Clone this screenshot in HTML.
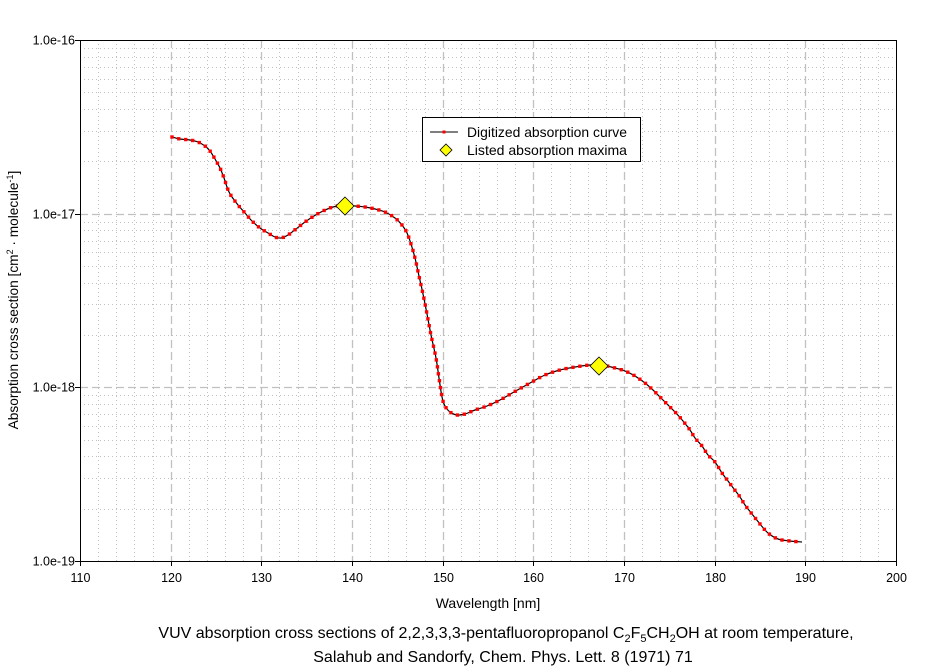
<!DOCTYPE html>
<html><head><meta charset="utf-8"><style>
body{margin:0;background:#fff}
svg{display:block;font-family:"Liberation Sans",Arial,sans-serif}
</style></head><body>
<svg id="s" width="936" height="668" viewBox="0 0 936 668">
<g id="grid"></g>
<rect x="80.5" y="40.5" width="816" height="521" fill="none" stroke="#000" stroke-width="1"/>
<g id="ticks" stroke="#000"></g>
<g id="labels" font-size="12.5" fill="#000"></g>
<path id="curve" fill="none" stroke="#000" stroke-width="1.2" d=""/>
<g id="marks" fill="#f00"></g>
<polygon points="345,197 354,206 345,215 336,206" fill="#ff0" stroke="#000" stroke-width="0.8"/>
<polygon points="599,357 608,366 599,375 590,366" fill="#ff0" stroke="#000" stroke-width="0.8"/>
<rect x="422.5" y="117.5" width="218" height="44" fill="#fff" stroke="#000"/>
<line x1="430" y1="132" x2="458" y2="132" stroke="#000"/>
<rect x="442.5" y="130.5" width="3" height="3" fill="#f00"/>
<polygon points="446,144 452,150 446,156 440,150" fill="#ff0" stroke="#000" stroke-width="0.8"/>
<text x="467" y="137" font-size="14" textLength="160" lengthAdjust="spacingAndGlyphs">Digitized absorption curve</text>
<text x="467" y="155" font-size="14" textLength="160" lengthAdjust="spacingAndGlyphs">Listed absorption maxima</text>
<text x="488" y="608" font-size="14" text-anchor="middle">Wavelength [nm]</text>
<text transform="translate(18,300) rotate(-90)" font-size="13.7" text-anchor="middle">Absorption cross section [cm<tspan font-size="9" dy="-5">2</tspan><tspan dy="5"> · molecule</tspan><tspan font-size="9" dy="-5">-1</tspan><tspan dy="5">]</tspan></text>
<text x="506" y="638" font-size="16" text-anchor="middle">VUV absorption cross sections of 2,2,3,3,3-pentafluoropropanol C<tspan font-size="11" dy="4">2</tspan><tspan dy="-4">F</tspan><tspan font-size="11" dy="4">5</tspan><tspan dy="-4">CH</tspan><tspan font-size="11" dy="4">2</tspan><tspan dy="-4">OH at room temperature,</tspan></text>
<text x="503" y="662" font-size="16" text-anchor="middle">Salahub and Sandorfy, Chem. Phys. Lett. 8 (1971) 71</text>
</svg>
<script>
var NS="http://www.w3.org/2000/svg";
function el(p,t,a,txt){var e=document.createElementNS(NS,t);for(var k in a)e.setAttribute(k,a[k]);if(txt!==undefined)e.textContent=txt;document.getElementById(p).appendChild(e);return e;}
var X0=80,X1=896,Y0=40,Y1=561;
function xp(n){return X0+(n-110)*(X1-X0)/90;}
function yp(l){return Y1-(l+19)*(Y1-Y0)/3;}
for(var n=112;n<200;n+=2){var x=Math.round(xp(n))+0.5;var maj=(n%10==0);
 el("grid","line",{x1:x,y1:Y0,x2:x,y2:Y1,stroke:"#c0c0c0","stroke-width":maj?1.3:1,"stroke-dasharray":maj?"8,4":"1,3"});}
for(var d=0;d<3;d++)for(var m=1;m<10;m++){if(d==0&&m==1)continue;var y=Math.round(yp(-19+d+Math.log10(m)))+0.5;var maj=(m==1);
 el("grid","line",{x1:X0,y1:y,x2:X1,y2:y,stroke:"#c0c0c0","stroke-width":maj?1.3:1,"stroke-dasharray":maj?"8,4":"1,3"});}
for(var n=110;n<=200;n+=10){var x=Math.round(xp(n))+0.5;el("ticks","line",{x1:x,y1:Y1,x2:x,y2:Y1+5});
 el("labels","text",{x:x,y:582,"text-anchor":"middle"},""+n);}
var lab=["1.0e-19","1.0e-18","1.0e-17","1.0e-16"];
for(var d=0;d<4;d++){var y=Math.round(yp(-19+d))+0.5;el("ticks","line",{x1:X0-5,y1:y,x2:X0,y2:y});
 el("labels","text",{x:75,y:y+4,"text-anchor":"end"},lab[d]);}
var P=[[172,137],[180,139],[190,140],[198,142],[205,146],[210,151],[215,159],[220,168],[224,178],[227,187],[229,192],[232,197],[238,205],[245,213],[252,221],[260,228],[268,233],[275,237],[281,238],[288,235],[296,229],[305,222],[314,216],[323,211],[333,207],[345,205],[355,206],[365,207],[375,209],[385,212],[395,218],[402,225],[407,233],[411,244],[415,258],[419,276],[423,294],[427,314],[431,335],[436,358],[439,378],[442,397],[445,406],[450,412],[457,415],[465,414],[475,410],[487,406],[500,400],[514,392],[530,383],[545,375],[560,370],[575,367],[590,365],[599,365],[607,366],[615,368],[625,371],[635,376],[645,383],[653,390],[660,397],[668,405],[676,413],[683,421],[690,430],[695,438],[702,446],[708,455],[715,462],[722,473],[728,481],[734,489],[740,497],[745,505],[752,514],[760,524],[768,533],[778,539],[790,541],[802,542]];
var d="M"+P[0][0]+","+P[0][1];
for(var i=0;i<P.length-1;i++){var p0=P[Math.max(i-1,0)],p1=P[i],p2=P[i+1],p3=P[Math.min(i+2,P.length-1)];
 d+=" C"+(p1[0]+(p2[0]-p0[0])/6)+","+(p1[1]+(p2[1]-p0[1])/6)+" "+(p2[0]-(p3[0]-p1[0])/6)+","+(p2[1]-(p3[1]-p1[1])/6)+" "+p2[0]+","+p2[1];}
var c=document.getElementById("curve");c.setAttribute("d",d);
var L=c.getTotalLength();
for(var s=0;s<=L;s+=7){var q=c.getPointAtLength(s);el("marks","rect",{x:q.x-1.7,y:q.y-1.7,width:3.4,height:3.4});}
</script>
</body></html>
